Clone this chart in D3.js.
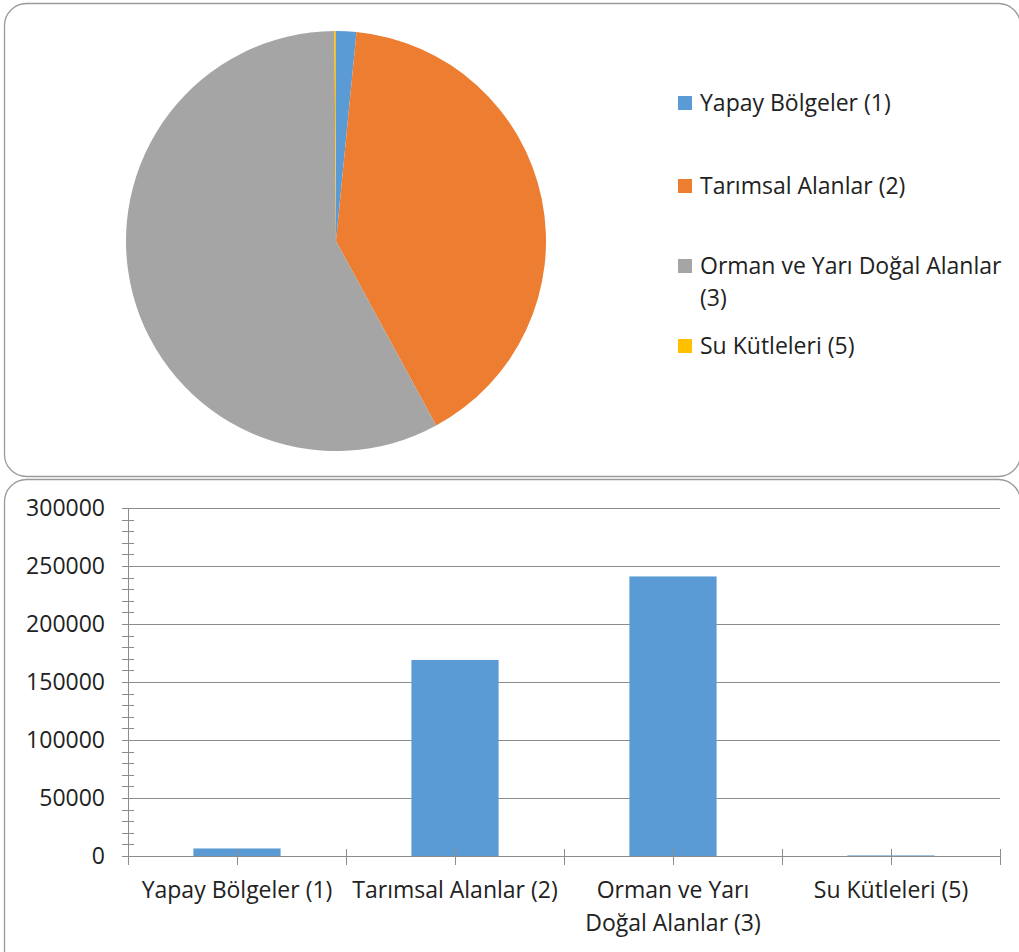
<!DOCTYPE html>
<html><head><meta charset="utf-8">
<script src="https://cdn.jsdelivr.net/npm/d3@7"></script>
<style>body{margin:0;background:#fff}svg{display:block}text{font-family:"Open Sans",Lato,sans-serif;fill:#222}</style>
</head><body><svg id="c" width="1019" height="952"></svg>
<script>
const categories = ["Yapay Bölgeler (1)", "Tarımsal Alanlar (2)", "Orman ve Yarı Doğal Alanlar (3)", "Su Kütleleri (5)"];
const values = [6500, 169000, 241000, 500];
const colors = ["#5b9bd5", "#ed7d31", "#a5a5a5", "#ffc000"];
const yTicks = [0, 50000, 100000, 150000, 200000, 250000, 300000];
const xLabelLines = [["Yapay Bölgeler (1)"], ["Tarımsal Alanlar (2)"], ["Orman ve Yarı", "Doğal Alanlar (3)"], ["Su Kütleleri (5)"]];
const legendLines = [["Yapay Bölgeler (1)"], ["Tarımsal Alanlar (2)"], ["Orman ve Yarı Doğal Alanlar", "(3)"], ["Su Kütleleri (5)"]];

const svg = d3.select("#c");
// panels
svg.append("rect").attr("x",4.5).attr("y",3.5).attr("width",1016).attr("height",473).attr("rx",22)
  .attr("fill","#fff").attr("stroke","#9a9a9a").attr("stroke-width",1.3);
svg.append("rect").attr("x",4.5).attr("y",479.5).attr("width",1016).attr("height",520).attr("rx",22)
  .attr("fill","#fff").attr("stroke","#9a9a9a").attr("stroke-width",1.3);

// pie
const pie = d3.pie().sort(null).value(d=>d)(values);
const arc = d3.arc().innerRadius(0).outerRadius(210);
const pg = svg.append("g").attr("transform","translate(336,241)");
pg.selectAll("path").data(pie).join("path").attr("d",arc).attr("fill",(d,i)=>colors[i]);

// legend
const legY = [103, 186, 266, 346];
const lg = svg.append("g");
categories.forEach((c,i)=>{
  lg.append("rect").attr("x",678).attr("y",legY[i]-7).attr("width",14).attr("height",14).attr("fill",colors[i]);
  legendLines[i].forEach((t,j)=>{
    lg.append("text").attr("x",700).attr("y",legY[i]+j*32).attr("dy","0.35em").attr("font-size",23).text(t);
  });
});

// bar chart
const x = d3.scaleBand().domain(categories).range([128,1000]).paddingInner(0).paddingOuter(0);
const y = d3.scaleLinear().domain([0,300000]).range([856,508]);
const g = svg.append("g");
g.selectAll(".grid").data(yTicks.slice(1)).join("line")
  .attr("x1",122).attr("x2",1000).attr("y1",d=>Math.round(y(d))+0.5).attr("y2",d=>Math.round(y(d))+0.5)
  .attr("stroke","#8c8c8c").attr("stroke-width",1);
g.selectAll(".minor").data(d3.range(0,300001,10000)).join("line")
  .attr("x1",122).attr("x2",134).attr("y1",d=>Math.round(y(d))+0.5).attr("y2",d=>Math.round(y(d))+0.5)
  .attr("stroke","#8c8c8c");
g.append("line").attr("x1",128.5).attr("x2",128.5).attr("y1",508).attr("y2",856).attr("stroke","#8c8c8c");
g.selectAll(".yl").data(yTicks).join("text").attr("x",105).attr("y",d=>y(d)).attr("dy","0.35em")
  .attr("text-anchor","end").attr("font-size",23).text(d=>d);
g.selectAll(".bar").data(values).join("rect")
  .attr("x",(d,i)=>x(categories[i])+x.bandwidth()*0.3).attr("width",x.bandwidth()*0.4)
  .attr("y",d=>y(d)).attr("height",d=>y(0)-y(d)).attr("fill","#5b9bd5");
g.append("line").attr("x1",122).attr("x2",1000).attr("y1",856.5).attr("y2",856.5).attr("stroke","#8c8c8c");
const xt = [];
categories.forEach(c=>{xt.push(x(c)); xt.push(x(c)+x.bandwidth()/2);});
xt.push(1000);
g.selectAll(".xt").data(xt).join("line").attr("x1",d=>Math.round(d)+0.5).attr("x2",d=>Math.round(d)+0.5)
  .attr("y1",849).attr("y2",865).attr("stroke","#8c8c8c");
categories.forEach((c,i)=>{
  xLabelLines[i].forEach((t,j)=>{
    g.append("text").attr("x",x(c)+x.bandwidth()/2).attr("y",890+j*33).attr("dy","0.35em")
      .attr("text-anchor","middle").attr("font-size",23).text(t);
  });
});
</script></body></html>
